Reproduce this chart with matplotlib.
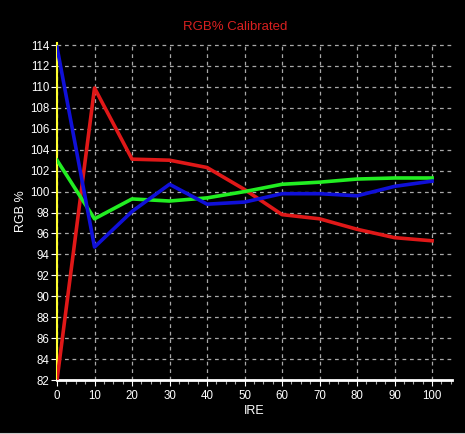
import matplotlib.pyplot as plt
from matplotlib.lines import Line2D
import numpy as np

ire = [0, 10, 20, 30, 40, 50, 60, 70, 80, 90, 100]
red = [82.0, 109.9, 103.1, 103.0, 102.3, 100.2, 97.8, 97.4, 96.4, 95.6, 95.3]
green = [103.0, 97.4, 99.3, 99.1, 99.4, 100.0, 100.7, 100.9, 101.2, 101.3, 101.3]
blue = [113.8, 94.7, 98.1, 100.7, 98.8, 99.0, 99.8, 99.8, 99.6, 100.5, 101.0]

y_ticks = list(range(82, 115, 2))
x_ticks = list(range(0, 101, 10))

plt.rcParams['font.family'] = ['Liberation Sans', 'DejaVu Sans']

fig = plt.figure(figsize=(4.65, 4.34), dpi=100, facecolor='black')
ax = fig.add_axes([0.1226, 0.1244, 0.8494, 0.7766], facecolor='black')

ax.plot(ire, red, color='#e01818', linewidth=2.6, zorder=3)
ax.plot(ire, green, color='#22ee22', linewidth=2.6, zorder=4)
ax.plot(ire, blue, color='#1010d8', linewidth=2.6, zorder=5)

ax.set_xlim(0, 105.3)
ax.set_ylim(82, 114.2)
ax.set_xticks(x_ticks)
ax.set_yticks(y_ticks)
ax.set_xticks(np.arange(0, 105.3, 2.5), minor=True)

ax.grid(True, color='#a8a8a8', linestyle=(0, (3, 3)), linewidth=0.9)
for s in ['top', 'right']:
    ax.spines[s].set_visible(False)
ax.spines['left'].set_color('#ffff30')
ax.spines['left'].set_linewidth(1.5)
ax.spines['bottom'].set_color('white')
ax.spines['bottom'].set_linewidth(2)

ax.tick_params(axis='both', colors='white', labelsize=8.3, length=4, width=0.8)
ax.tick_params(axis='x', which='minor', colors='#a8a8a8', length=3, width=0.8)
ax.tick_params(axis='y', pad=1.5)

ax.set_xlabel('IRE', color='white', fontsize=9, labelpad=2)
ax.set_ylabel('RGB %', color='white', fontsize=9, labelpad=2)
fig.text(0.505, 0.938, 'RGB% Calibrated', color='#d82020', fontsize=9.5,
         ha='center', va='center')

# light window edge along the bottom
fig.add_artist(Line2D([0, 1], [0.001, 0.001], transform=fig.transFigure,
                      color='#c8c8c8', linewidth=1.5))

fig.savefig('out.png', dpi=100, facecolor='black')
